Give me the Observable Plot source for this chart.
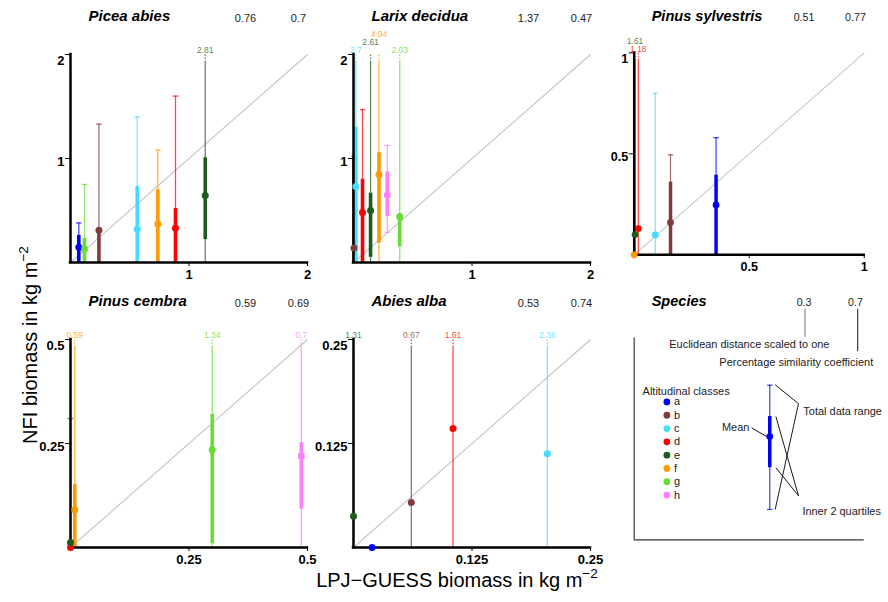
<!DOCTYPE html>
<html><head><meta charset="utf-8">
<script src="https://cdn.jsdelivr.net/npm/d3@7"></script>
<script src="https://cdn.jsdelivr.net/npm/@observablehq/plot@0.6"></script>
<style>
body{margin:0;background:#fff;}
#chart{position:relative;width:888px;height:602px;overflow:hidden;font-family:"Liberation Sans",Arial,sans-serif;color:#000;}
.panel{position:absolute;}
.ytitle{position:absolute;left:30px;top:345px;transform:translate(-50%,-50%) rotate(-90deg);font-size:20px;white-space:nowrap;}
.xtitle{position:absolute;left:457px;top:580px;transform:translate(-50%,-50%);font-size:20px;white-space:nowrap;}
sup{font-size:0.68em;vertical-align:0.6em;line-height:0;}
</style></head>
<body><div id="chart"></div>
<script>
// ---------- data ----------
const classes = ["a","b","c","d","e","f","g","h"];
const classColors = ["#0000ff","#803c3c","#44ddff","#ff0000","#1e5c1e","#ff9900","#66dd33","#ff7fff"];

const speciesNames = ["Picea abies","Larix decidua","Pinus sylvestris","Pinus cembra","Abies alba"];
const euclidDist = [0.76, 1.37, 0.51, 0.59, 0.53];
const pctSimilarity = [0.7, 0.47, 0.77, 0.69, 0.74];
const axisMax = [2, 2, 1, 0.5, 0.25];
const axisTicks = [[1, 2], [1, 2], [0.5, 1], [0.25, 0.5], [0.125, 0.25]];
const legendNumbers = [0.3, 0.7];

// Picea abies
const piceaClass = ["a","b","c","d","e","f","g"];
const piceaLpj   = [0.07, 0.24, 0.563, 0.886, 1.137, 0.737, 0.118];
const piceaMean  = [0.147, 0.31, 0.32, 0.33, 0.644, 0.37, 0.13];
const piceaMin   = [0, 0, 0, 0, 0, 0, 0];
const piceaQ1    = [0, 0, 0, 0, 0.22, 0, 0];
const piceaQ3    = [0.26, 0.31, 0.73, 0.52, 1.007, 0.70, 0.23];
const piceaMax   = [0.38, 1.33, 1.40, 1.60, 2.81, 1.08, 0.75];

// Larix decidua
const larixClass = ["b","c","d","e","f","g","h"];
const larixLpj   = [0.004, 0.02, 0.076, 0.144, 0.215, 0.39, 0.285];
const larixMean  = [0.14, 0.73, 0.48, 0.50, 0.846, 0.44, 0.65];
const larixMin   = [0, 0, 0, 0, 0, 0, 0.29];
const larixQ1    = [0, 0, 0, 0.05, 0.186, 0.15, 0.44];
const larixQ3    = [1.02, 1.30, 0.80, 0.666, 1.055, 0.47, 0.87];
const larixMax   = [1.02, 2.7, 1.47, 2.61, 4.94, 2.03, 1.125];

// Pinus sylvestris
const sylvClass = ["a","b","c","d","e","f"];
const sylvLpj   = [0.356, 0.158, 0.092, 0.018, 0.004, 0.0];
const sylvMean  = [0.247, 0.16, 0.098, 0.13, 0.10, 0.0];
const sylvMin   = [0, 0, 0, 0, 0, 0];
const sylvQ1    = [0, 0, 0, 0, 0, 0];
const sylvQ3    = [0.394, 0.36, 0, 0, 0, 0];
const sylvMax   = [0.58, 0.495, 0.80, 1.18, 1.61, 0];

// Pinus cembra
const cembraClass = ["d","e","f","g","h"];
const cembraLpj   = [0.0, 0.0, 0.009, 0.299, 0.487];
const cembraMean  = [0.0, 0.012, 0.091, 0.235, 0.22];
const cembraMin   = [0, 0, 0, 0, 0];
const cembraQ1    = [0, 0, 0, 0.009, 0.092];
const cembraQ3    = [0, 0, 0.151, 0.32, 0.252];
const cembraMax   = [0, 0.31, 0.59, 1.34, 0.7];

// Abies alba
const abiesClass = ["a","b","c","d","e"];
const abiesLpj   = [0.0196, 0.061, 0.2045, 0.105, 0.0];
const abiesMean  = [0.0, 0.054, 0.1126, 0.143, 0.0376];
const abiesMin   = [0, 0, 0, 0, 0];
const abiesQ1    = [0, 0, 0, 0, 0];
const abiesQ3    = [0, 0, 0, 0, 0];
const abiesMax   = [0, 0.67, 2.36, 1.61, 1.31];

// ---------- layout ----------
const W = 237, H = 208, ML = 45, MR = 25, MT = 54, MB = 40;
const colX = [70, 353, 635], rowY = [54, 339];
const FONT = '"Liberation Sans", Arial, sans-serif';
const chart = document.getElementById("chart");

function makeRows(cls, lpj, mean, mn, q1, q3, mx) {
  return cls.map((c, i) => ({cls: c, x: lpj[i], mean: mean[i], min: mn[i], q1: q1[i], q3: q3[i], max: mx[i]}));
}
const capSymbol = {draw(ctx, size) { const w = Math.sqrt(size / Math.PI); ctx.moveTo(-w, 0); ctx.lineTo(w, 0); }};
const colorOpt = {domain: classes, range: classColors};
const WOP = 0.72;

function place(svg, col, row) {
  const div = document.createElement("div");
  div.className = "panel";
  div.style.left = (colX[col] - ML) + "px";
  div.style.top = (rowY[row] - MT) + "px";
  div.appendChild(svg);
  chart.appendChild(div);
}

function headerMarks(name, n1, n2) {
  return [
    Plot.text([name], {frameAnchor: "top-left", text: d => d, dx: 18, dy: -38, textAnchor: "start", lineAnchor: "middle", fontSize: 15, fontWeight: "bold", fontStyle: "italic", fill: "#000"}),
    Plot.text([n1], {frameAnchor: "top-left", text: d => String(d), dx: 175, dy: -36, textAnchor: "middle", lineAnchor: "middle", fontSize: 11, fontWeight: "normal", fill: "#222"}),
    Plot.text([n2], {frameAnchor: "top-left", text: d => String(d), dx: 228, dy: -36, textAnchor: "middle", lineAnchor: "middle", fontSize: 11, fontWeight: "normal", fill: "#222"})
  ];
}

function speciesPanel(k, rows, col, row) {
  const max = axisMax[k], ticks = axisTicks[k];
  const cut = max * (1 - 8 / H);
  const trunc = rows.filter(d => d.max > max);
  let prev = null;
  for (const d of trunc) {
    d.px = d.x / max * W;
    d.row = (prev && Math.abs(d.px - prev.px) < 18) ? prev.row + 1 : 0;
    prev = d;
  }
  const ranged = rows.filter(d => d.max > d.min);
  const wStyle = {stroke: "cls", strokeOpacity: WOP, strokeWidth: 1.3};
  const labelMarks = [0, 1, 2, 3].map(r => Plot.text(trunc.filter(d => d.row === r), {
    x: "x", y: max, text: d => String(d.max), fill: "cls", fillOpacity: 0.8,
    fontSize: 8.5, fontWeight: "normal", dy: -4 - 8 * r, lineAnchor: "middle"
  }));
  const svg = Plot.plot({
    width: ML + W + MR, height: MT + H + MB,
    marginLeft: ML, marginRight: MR, marginTop: MT, marginBottom: MB,
    style: {background: "transparent", overflow: "visible", fontFamily: FONT, fontSize: "13px", fontWeight: "bold", color: "#000"},
    color: colorOpt,
    x: {domain: [0, max], ticks: ticks, tickFormat: d => String(d), tickSize: 4, tickPadding: 3, label: null, line: false},
    y: {domain: [0, max], ticks: ticks, tickFormat: () => "", tickSize: 5, label: null, line: false},
    marks: [
      Plot.link([{x1: 0, y1: 0, x2: max, y2: max}], {x1: "x1", y1: "y1", x2: "x2", y2: "y2", stroke: "#c4c4c4", strokeWidth: 1.1}),
      Plot.ruleX(ranged, {x: "x", y1: "min", y2: d => Math.min(d.max, cut), ...wStyle}),
      Plot.ruleX(trunc, {x: "x", y1: cut, y2: max, ...wStyle, strokeDasharray: "1.5,1.5"}),
      Plot.dot(ranged.filter(d => d.max <= max), {x: "x", y: "max", symbol: capSymbol, r: 2.8, fill: "none", ...wStyle}),
      Plot.dot(ranged.filter(d => d.min > 0), {x: "x", y: "min", symbol: capSymbol, r: 2.8, fill: "none", ...wStyle}),
      Plot.ruleX(rows.filter(d => d.q3 > d.q1), {x: "x", y1: "q1", y2: "q3", stroke: "cls", strokeWidth: 3.6}),
      Plot.ruleX([0], {stroke: "#000", strokeWidth: 2.5, strokeLinecap: "square"}),
      Plot.ruleY([0], {stroke: "#000", strokeWidth: 2.5, strokeLinecap: "square"}),
      Plot.dot(rows, {x: "x", y: "mean", r: 3.5, fill: "cls"}),
      ...labelMarks,
      Plot.text([ticks[0]], {x: 0, y: d => d, text: d => String(d), textAnchor: "end", dx: -6, dy: 3}),
      Plot.text([ticks[1]], {x: 0, y: d => d, text: d => String(d), textAnchor: "end", dx: -6, dy: 6}),
      ...headerMarks(speciesNames[k], euclidDist[k], pctSimilarity[k])
    ]
  });
  place(svg, col, row);
}

speciesPanel(0, makeRows(piceaClass, piceaLpj, piceaMean, piceaMin, piceaQ1, piceaQ3, piceaMax), 0, 0);
speciesPanel(1, makeRows(larixClass, larixLpj, larixMean, larixMin, larixQ1, larixQ3, larixMax), 1, 0);
speciesPanel(2, makeRows(sylvClass, sylvLpj, sylvMean, sylvMin, sylvQ1, sylvQ3, sylvMax), 2, 0);
speciesPanel(3, makeRows(cembraClass, cembraLpj, cembraMean, cembraMin, cembraQ1, cembraQ3, cembraMax), 0, 1);
speciesPanel(4, makeRows(abiesClass, abiesLpj, abiesMean, abiesMin, abiesQ1, abiesQ3, abiesMax), 1, 1);

// ---------- legend panel (pixel-like coordinates inside the panel frame) ----------
(function legendPanel() {
  const ex = [{cls: "a", x: 139.7, top: 48.7, bottom: 176.7, q3: 81, q1: 133.7, mean: 101.7}];
  const entries = classes.map((c, i) => ({cls: c, y: 66 + i * 13.7}));
  const leaders = [
    {x1: 121, y1: 92.7, x2: 136.7, y2: 101.7},
    {x1: 145.3, y1: 48.3, x2: 169.3, y2: 67.7},
    {x1: 145.3, y1: 176.7, x2: 169.3, y2: 67.7},
    {x1: 146, y1: 81, x2: 169.3, y2: 162.7},
    {x1: 146, y1: 133.7, x2: 169.3, y2: 162.7},
    {x1: 230.3, y1: -30, x2: 230.3, y2: 13.7}
  ];
  const txt = {fontSize: 11.3, fontWeight: "normal", fill: "#222", lineAnchor: "middle"};
  const svg = Plot.plot({
    width: ML + W + MR, height: MT + H + MB,
    marginLeft: ML, marginRight: MR, marginTop: MT, marginBottom: MB,
    style: {background: "transparent", overflow: "visible", fontFamily: FONT, fontSize: "13px", fontWeight: "bold", color: "#000"},
    color: colorOpt,
    x: {domain: [0, W], axis: null},
    y: {domain: [0, H], reverse: true, axis: null},
    marks: [
      Plot.ruleX([0], {stroke: "#333", strokeWidth: 1.2}),
      Plot.ruleY([H], {stroke: "#333", strokeWidth: 1.2}),
      Plot.link([{x1: 176, y1: -30, x2: 176, y2: -1.3}], {x1: "x1", y1: "y1", x2: "x2", y2: "y2", stroke: "#888", strokeWidth: 1.2}),
      Plot.link(leaders, {x1: "x1", y1: "y1", x2: "x2", y2: "y2", stroke: "#111", strokeWidth: 1}),
      Plot.text(["Euclidean distance scaled to one"], {x: 118.7, y: 7, text: d => d, textAnchor: "middle", ...txt}),
      Plot.text(["Percentage similarity coefficient"], {x: 167, y: 25, text: d => d, textAnchor: "middle", ...txt}),
      Plot.text(["Altitudinal classes"], {x: 8.7, y: 55, text: d => d, textAnchor: "start", ...txt}),
      Plot.dot(entries, {x: 33.7, y: "y", r: 3.5, fill: "cls"}),
      Plot.text(entries, {x: 41, y: "y", text: "cls", textAnchor: "start", ...txt}),
      Plot.ruleX(ex, {x: "x", y1: "top", y2: "bottom", stroke: "cls", strokeOpacity: WOP, strokeWidth: 1.3}),
      Plot.dot(ex, {x: "x", y: "top", symbol: capSymbol, r: 2.8, fill: "none", stroke: "cls", strokeOpacity: WOP, strokeWidth: 1.3}),
      Plot.dot(ex, {x: "x", y: "bottom", symbol: capSymbol, r: 2.8, fill: "none", stroke: "cls", strokeOpacity: WOP, strokeWidth: 1.3}),
      Plot.ruleX(ex, {x: "x", y1: "q1", y2: "q3", stroke: "cls", strokeWidth: 3.6}),
      Plot.dot(ex, {x: "x", y: "mean", r: 3.5, fill: "cls"}),
      Plot.text(["Mean"], {x: 118.7, y: 92, text: d => d, textAnchor: "end", ...txt}),
      Plot.text(["Total data range"], {x: 174.3, y: 76, text: d => d, textAnchor: "start", ...txt}),
      Plot.text(["Inner 2 quartiles"], {x: 173.3, y: 178.7, text: d => d, textAnchor: "start", ...txt}),
      ...headerMarks("Species", legendNumbers[0], legendNumbers[1])
    ]
  });
  place(svg, 2, 1);
})();

// ---------- axis titles ----------
const yt = document.createElement("div");
yt.className = "ytitle";
yt.innerHTML = "NFI biomass in kg m<sup>\u22122</sup>";
chart.appendChild(yt);
const xt = document.createElement("div");
xt.className = "xtitle";
xt.innerHTML = "LPJ\u2212GUESS biomass in kg m<sup>\u22122</sup>";
chart.appendChild(xt);
</script>
</body></html>
